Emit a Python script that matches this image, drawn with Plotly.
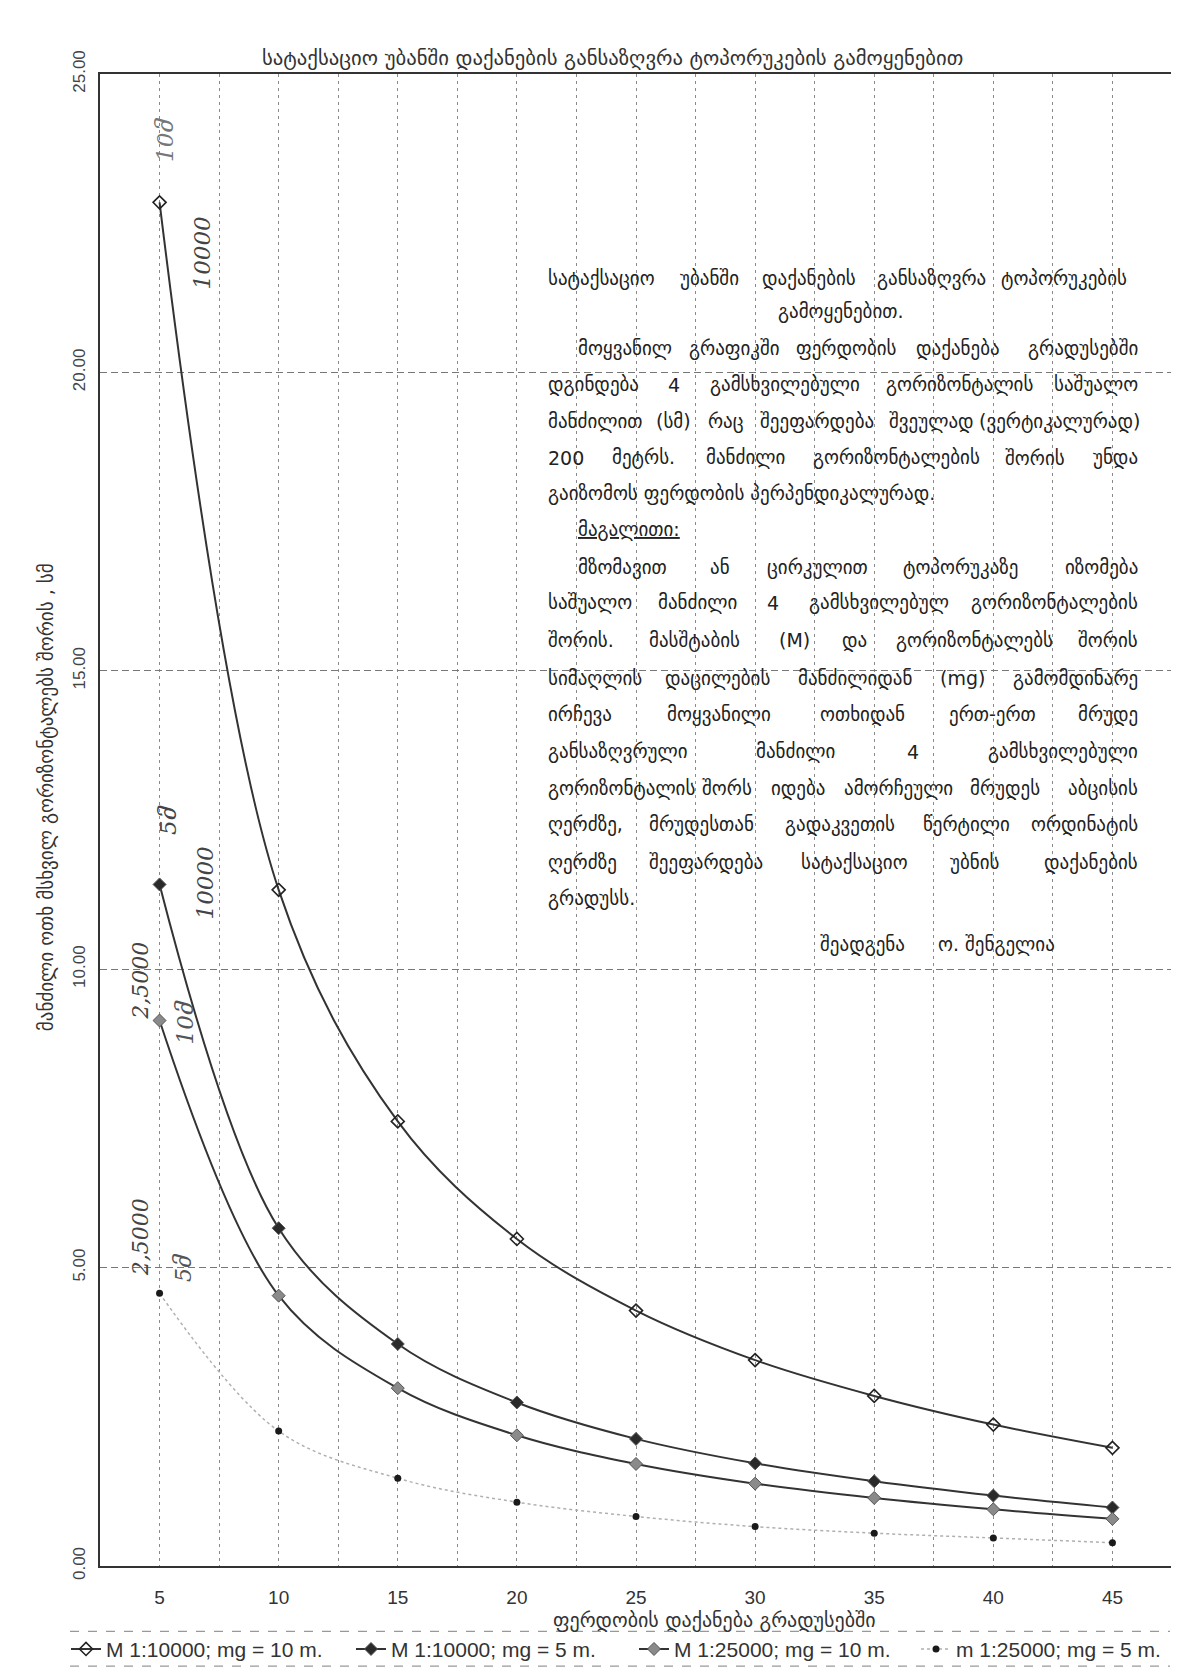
import plotly.graph_objects as go

# ---------------- data ----------------
slope_deg = [5, 10, 15, 20, 25, 30, 35, 40, 45]
m10000_mg10 = [22.85, 11.33, 7.45, 5.48, 4.28, 3.45, 2.85, 2.37, 1.98]
m10000_mg5 = [11.42, 5.66, 3.72, 2.74, 2.13, 1.72, 1.42, 1.18, 0.98]
m25000_mg10 = [9.14, 4.53, 2.98, 2.19, 1.71, 1.38, 1.14, 0.95, 0.79]
m25000_mg5 = [4.57, 2.26, 1.47, 1.07, 0.83, 0.66, 0.55, 0.47, 0.39]

series_names = ["M 1:10000; mg = 10 m.", "M 1:10000; mg = 5 m.",
                "M 1:25000; mg = 10 m.", "m 1:25000; mg = 5 m."]
x_tick_vals = [5, 10, 15, 20, 25, 30, 35, 40, 45]

title_text = "სატაქსაციო უბანში დაქანების განსაზღვრა ტოპორუკების გამოყენებით"
x_title = "ფერდობის დაქანება გრადუსებში"
y_title = "მანძილი ოთხ მსხვილ გორიზონტალებს შორის , სმ"

# text block lines: (text, y_full_px, mode, x_left_full_px, x_right_full_px)
text_lines = [
    ("სატაქსაციო უბანში დაქანების განსაზღვრა ტოპორუკების", 272, "justify", 538, 1121),
    ("გამოყენებით.", 305, "center", 833, None),
    ("მოყვანილ გრაფიკში ფერდობის დაქანება გრადუსებში", 343, "justify", 568, 1132),
    ("დგინდება 4 გამსხვილებული გორიზონტალის საშუალო", 379, "justify", 538, 1132),
    ("მანძილით (სმ) რაც შეეფარდება შვეულად (ვერტიკალურად)", 416, "justify", 538, 1134),
    ("200 მეტრს. მანძილი გორიზონტალების შორის უნდა", 453, "justify", 538, 1132),
    ("გაიზომოს ფერდობის პერპენდიკალურად.", 489, "left", 538, None),
    ("<u>მაგალითი:</u>", 525, "left", 568, None),
    ("მზომავით ან ცირკულით ტოპორუკაზე იზომება", 563, "justify", 568, 1132),
    ("საშუალო მანძილი 4 გამსხვილებულ გორიზონტალების", 599, "justify", 538, 1132),
    ("შორის. მასშტაბის (M) და გორიზონტალებს შორის", 637, "justify", 538, 1132),
    ("სიმაღლის დაცილების მანძილიდან (mg) გამომდინარე", 675, "justify", 538, 1132),
    ("ირჩევა მოყვანილი ოთხიდან ერთ-ერთ მრუდე", 712, "justify", 538, 1132),
    ("განსაზღვრული მანძილი 4 გამსხვილებული", 749, "justify", 538, 1132),
    ("გორიზონტალის შორს იდება ამორჩეული მრუდეს აბცისის", 786, "justify", 538, 1132),
    ("ღერძზე, მრუდესთან გადაკვეთის წერტილი ორდინატის", 823, "justify", 538, 1132),
    ("ღერძზე შეეფარდება სატაქსაციო უბნის დაქანების", 861, "justify", 538, 1132),
    ("გრადუსს.", 897, "left", 538, None),
    ("შეადგენა", 944, "left", 810, None),
    ("ო. შენგელია", 944, "left", 928, None),
]

# handwritten notes: (text, x_data, y_data, size, color)
hand_notes = [
    ("10მ", 5.2, 23.9, 23, "#777"),
    ("10000", 6.8, 22.0, 23, "#444"),
    ("5მ", 5.35, 12.5, 23, "#444"),
    ("10000", 6.9, 11.45, 23, "#444"),
    ("2,5000", 4.2, 9.8, 22, "#444"),
    ("10მ", 6.05, 9.1, 23, "#555"),
    ("2,5000", 4.2, 5.5, 22, "#444"),
    ("5მ", 6.0, 5.0, 22, "#555"),
]

# ---------------- geometry ----------------
W, H = 1179, 1674
ML, MR, MT, MB = 92, 15, 66, 104
L, R, T, B = ML, W - MR, MT, H - MB


def pxx(xf):
    return (xf - L) / (R - L)


def pxy(yf):
    return (B - yf) / (B - T)


GEO = "DejaVu Sans"
LAT = "Liberation Sans, Arial, sans-serif"
TXT_FS = 19

CW = {" ": 0.318, ".": 0.318, ",": 0.318, ":": 0.337, "(": 0.39, ")": 0.39,
      "-": 0.361, "M": 0.863, "m": 0.974, "g": 0.635}


def est_w(word, fs):
    w = 0.0
    for c in word:
        if c in CW:
            w += CW[c]
        elif c.isdigit():
            w += 0.636
        else:
            w += 0.61
    return w * fs


fig = go.Figure()

legend_ids = ["legend", "legend2", "legend3", "legend4"]

fig.add_trace(go.Scatter(
    x=slope_deg, y=m10000_mg10, name=series_names[0], mode="lines+markers", legend=legend_ids[0],
    line=dict(color="#333333", width=2, shape="spline", smoothing=1.0),
    marker=dict(symbol="diamond-open", size=10, color="#222222", line=dict(width=1.6))))
fig.add_trace(go.Scatter(
    x=slope_deg, y=m10000_mg5, name=series_names[1], mode="lines+markers", legend=legend_ids[1],
    line=dict(color="#333333", width=2, shape="spline", smoothing=1.0),
    marker=dict(symbol="diamond", size=10, color="#2a2a2a", line=dict(width=1, color="#555"))))
fig.add_trace(go.Scatter(
    x=slope_deg, y=m25000_mg10, name=series_names[2], mode="lines+markers", legend=legend_ids[2],
    line=dict(color="#333333", width=2, shape="spline", smoothing=1.0),
    marker=dict(symbol="diamond", size=10, color="#8a8a8a", line=dict(width=1, color="#555"))))
fig.add_trace(go.Scatter(
    x=slope_deg, y=m25000_mg5, name=series_names[3], mode="lines+markers", legend=legend_ids[3],
    line=dict(color="#b0b0b0", width=1.5, dash="dot", shape="spline", smoothing=1.0),
    marker=dict(symbol="circle", size=7, color="#1a1a1a")))

annotations = []

# title
annotations.append(dict(text=title_text, x=pxx(604), y=pxy(50), xref="paper", yref="paper",
                        xanchor="center", yanchor="middle", showarrow=False,
                        font=dict(family=GEO, size=20.7, color="#333")))
# axis titles
annotations.append(dict(text=x_title, x=pxx(706), y=pxy(1624), xref="paper", yref="paper",
                        xanchor="center", yanchor="middle", showarrow=False,
                        font=dict(family=GEO, size=20, color="#333")))
annotations.append(dict(text=y_title, x=pxx(38), y=pxy(795), xref="paper", yref="paper",
                        xanchor="center", yanchor="middle", showarrow=False, textangle=-90,
                        font=dict(family=GEO, size=19, color="#333")))

# text block (justified by hand: first word left, last word right, others centred)
for text, yf, mode, xl, xr in text_lines:
    font = dict(family=GEO, size=TXT_FS, color="#222")
    if mode == "justify":
        words = text.split(" ")
        widths = [est_w(w, TXT_FS) for w in words]
        gap = (xr - xl - sum(widths)) / max(len(words) - 1, 1)
        pos = xl
        for i, (w, ww) in enumerate(zip(words, widths)):
            if i == 0:
                xa, xp = "left", pos
            elif i == len(words) - 1:
                xa, xp = "right", xr
            else:
                xa, xp = "center", pos + ww / 2
            annotations.append(dict(text=w, x=pxx(xp), y=pxy(yf), xref="paper", yref="paper",
                                    xanchor=xa, yanchor="middle", showarrow=False, font=font))
            pos += ww + gap
    else:
        anchor = "center" if mode == "center" else "left"
        annotations.append(dict(text=text, x=pxx(xl), y=pxy(yf), xref="paper", yref="paper",
                                xanchor=anchor, yanchor="middle", showarrow=False, font=font))

# handwritten notes
for text, xd, yd, fs, col in hand_notes:
    annotations.append(dict(text="<i>" + text + "</i>", x=xd, y=yd, xref="x", yref="y",
                            xanchor="center", yanchor="middle", showarrow=False, textangle=-90,
                            font=dict(family="DejaVu Serif", size=fs, color=col)))

shapes = [
    dict(type="line", xref="paper", yref="paper", x0=pxx(62), x1=pxx(1162), y0=pxy(1636), y1=pxy(1636),
         line=dict(color="#999", width=1.2, dash="dash")),
    dict(type="line", xref="paper", yref="paper", x0=pxx(62), x1=pxx(1162), y0=pxy(1671), y1=pxy(1671),
         line=dict(color="#999", width=1.2, dash="dash")),
]

legend_text_x = [100, 385, 668, 950]
leg_common = dict(orientation="h", xanchor="left", yanchor="middle", y=pxy(1654),
                  font=dict(family=LAT, size=21, color="#333"), itemwidth=30,
                  bgcolor="rgba(0,0,0,0)", borderwidth=0)

fig.update_layout(
    width=W, height=H,
    margin=dict(l=ML, r=MR, t=MT, b=MB),
    paper_bgcolor="white", plot_bgcolor="white",
    showlegend=True,
    legend=dict(x=pxx(legend_text_x[0] - 42), **leg_common),
    legend2=dict(x=pxx(legend_text_x[1] - 42), **leg_common),
    legend3=dict(x=pxx(legend_text_x[2] - 42), **leg_common),
    legend4=dict(x=pxx(legend_text_x[3] - 42), **leg_common),
    annotations=annotations,
    shapes=shapes,
    xaxis=dict(range=[2.5, 47.5], tickmode="array", tickvals=x_tick_vals,
               ticks="", showgrid=True, gridcolor="#8a8a8a", gridwidth=1, griddash="3px,4px",
               minor=dict(tickmode="array", tickvals=[7.5, 12.5, 17.5, 22.5, 27.5, 32.5, 37.5, 42.5],
                          showgrid=True, gridcolor="#8a8a8a", gridwidth=1, griddash="3px,4px"),
               showline=True, linecolor="#333", linewidth=2, mirror=True, zeroline=False,
               tickfont=dict(family=LAT, size=19, color="#333"), ticklabelstandoff=13),
    yaxis=dict(range=[0, 25], tick0=0, dtick=5, tickformat=".2f", tickangle=-90,
               ticks="", showgrid=True, gridcolor="#777", gridwidth=1, griddash="7px,4px",
               showline=True, linecolor="#333", linewidth=2, mirror=True, zeroline=False,
               tickfont=dict(family=LAT, size=17, color="#444"), ticklabelstandoff=6),
)

fig.write_html("out.html")
